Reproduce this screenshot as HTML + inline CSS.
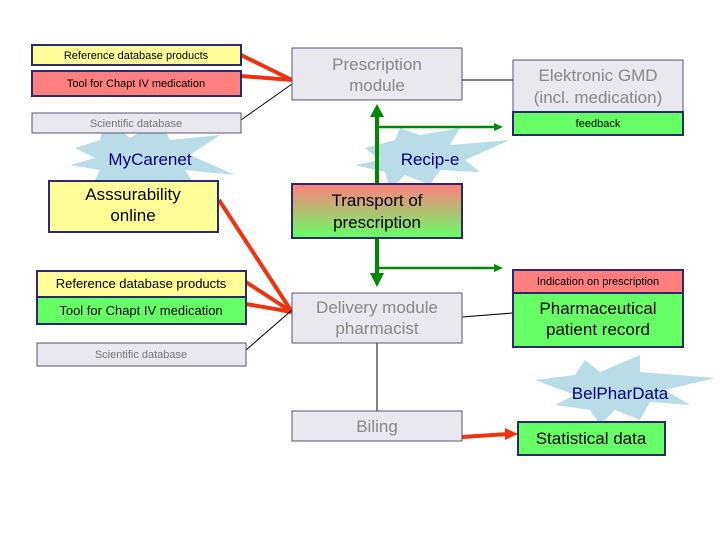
<!DOCTYPE html>
<html><head><meta charset="utf-8"><style>
html,body{margin:0;padding:0;background:#fff;}
svg{display:block;font-family:"Liberation Sans",sans-serif;}
</style></head><body>
<svg width="720" height="540" viewBox="0 0 720 540" xmlns="http://www.w3.org/2000/svg">
<defs>
<linearGradient id="g1" x1="0" y1="0" x2="0" y2="1">
<stop offset="0" stop-color="#ff7f7f"/><stop offset="1" stop-color="#66ff66"/>
</linearGradient>
</defs>
<polygon fill="#b8dde6" points="75,148 100,140 105,118 130,138 160,120 170,140 220,135 190,155 235,175 185,170 195,185 160,180 140,200 125,182 90,190 100,170 70,165 95,158"/>
<polygon fill="#b8dde6" points="365,148 395,140 400,128 420,135 460,128 450,145 510,140 465,160 480,172 440,170 430,185 405,175 390,190 385,172 355,165 380,160"/>
<polygon fill="#b8dde6" points="535,380 575,375 585,360 600,372 640,355 640,372 715,378 665,390 690,405 650,402 640,420 615,410 600,425 590,410 555,405 575,395"/>
<text x="150" y="165" font-size="17" fill="#000080" text-anchor="middle">MyCarenet</text>
<text x="430" y="165" font-size="17" fill="#000080" text-anchor="middle">Recip-e</text>
<text x="620" y="399" font-size="17" fill="#000080" text-anchor="middle">BelPharData</text>
<g stroke="#ee3311" stroke-width="4" fill="none">
<line x1="241" y1="55" x2="292" y2="80"/><line x1="241" y1="76" x2="292" y2="80"/>
<line x1="219" y1="200" x2="292" y2="312"/><line x1="246" y1="282" x2="292" y2="312"/><line x1="246" y1="304" x2="292" y2="312"/>
<line x1="462" y1="437" x2="508" y2="434"/>
</g>
<polygon fill="#ee3311" points="505,428 518,434 505,440"/>
<g stroke="#000" stroke-width="1" fill="none">
<line x1="241" y1="120" x2="292" y2="84"/>
<line x1="246" y1="350" x2="292" y2="310"/>
<line x1="462" y1="80" x2="513" y2="80"/>
<line x1="462" y1="317" x2="513" y2="313"/>
<line x1="377" y1="343" x2="377" y2="411"/>
</g>
<g stroke="#008800" stroke-width="4" fill="none">
<line x1="377" y1="116" x2="377" y2="184"/>
<line x1="377" y1="238" x2="377" y2="275"/>
</g>
<g stroke="#008800" stroke-width="2.5" fill="none">
<line x1="377" y1="127" x2="496" y2="127"/>
<line x1="377" y1="268" x2="496" y2="268"/>
</g>
<g fill="#008800">
<polygon points="370,117 377,104 384,117"/>
<polygon points="370,273 377,287 384,273"/>
<polygon points="494,123 503,127 494,131"/>
<polygon points="494,264 503,268 494,272"/>
</g>
<rect x="32" y="45" width="209" height="20" fill="#ffff99" stroke="#2b2b6b" stroke-width="2"/>
<text x="136" y="59" font-size="11" text-anchor="middle">Reference database products</text>
<rect x="32" y="71" width="209" height="25" fill="#ff7f7f" stroke="#2b2b6b" stroke-width="2"/>
<text x="136" y="87" font-size="11" text-anchor="middle">Tool for Chapt IV medication</text>
<rect x="32" y="113" width="209" height="20" fill="#e8e8ee" stroke="#555577" stroke-width="1"/>
<text x="136" y="127" font-size="11" fill="#777" text-anchor="middle">Scientific database</text>
<rect x="49" y="181" width="169" height="51" fill="#ffff99" stroke="#2b2b6b" stroke-width="2"/>
<text x="133" y="200" font-size="17" text-anchor="middle">Asssurability</text>
<text x="133" y="221" font-size="17" text-anchor="middle">online</text>
<rect x="292" y="48" width="170" height="52" fill="#e8e8ee" stroke="#555577" stroke-width="1"/>
<text x="377" y="70" font-size="17" fill="#888" text-anchor="middle">Prescription</text>
<text x="377" y="91" font-size="17" fill="#888" text-anchor="middle">module</text>
<rect x="292" y="184" width="170" height="54" fill="url(#g1)" stroke="#2b2b6b" stroke-width="2"/>
<text x="377" y="206" font-size="17" text-anchor="middle">Transport of</text>
<text x="377" y="228" font-size="17" text-anchor="middle">prescription</text>
<rect x="292" y="293" width="170" height="50" fill="#e8e8ee" stroke="#555577" stroke-width="1"/>
<text x="377" y="313" font-size="17" fill="#888" text-anchor="middle">Delivery module</text>
<text x="377" y="334" font-size="17" fill="#888" text-anchor="middle">pharmacist</text>
<rect x="292" y="411" width="170" height="30" fill="#e8e8ee" stroke="#555577" stroke-width="1"/>
<text x="377" y="432" font-size="17" fill="#888" text-anchor="middle">Biling</text>
<rect x="513" y="60" width="170" height="52" fill="#e8e8ee" stroke="#555577" stroke-width="1"/>
<text x="598" y="81" font-size="17" fill="#888" text-anchor="middle">Elektronic GMD</text>
<text x="598" y="103" font-size="17" fill="#888" text-anchor="middle">(incl. medication)</text>
<rect x="513" y="112" width="170" height="23" fill="#66ff66" stroke="#2b2b6b" stroke-width="2"/>
<text x="598" y="127" font-size="11" text-anchor="middle">feedback</text>
<rect x="513" y="270" width="170" height="23" fill="#ff7f7f" stroke="#2b2b6b" stroke-width="2"/>
<text x="598" y="285" font-size="11" text-anchor="middle">Indication on prescription</text>
<rect x="513" y="293" width="170" height="54" fill="#66ff66" stroke="#2b2b6b" stroke-width="2"/>
<text x="598" y="314" font-size="17" text-anchor="middle">Pharmaceutical</text>
<text x="598" y="335" font-size="17" text-anchor="middle">patient record</text>
<rect x="518" y="422" width="147" height="33" fill="#66ff66" stroke="#2b2b6b" stroke-width="2"/>
<text x="591" y="444" font-size="17" text-anchor="middle">Statistical data</text>
<rect x="37" y="271" width="209" height="26" fill="#ffff99" stroke="#2b2b6b" stroke-width="2"/>
<text x="141" y="288" font-size="13" text-anchor="middle">Reference database products</text>
<rect x="37" y="297" width="209" height="27" fill="#66ff66" stroke="#2b2b6b" stroke-width="2"/>
<text x="141" y="315" font-size="13" text-anchor="middle">Tool for Chapt IV medication</text>
<rect x="37" y="343" width="209" height="23" fill="#e8e8ee" stroke="#555577" stroke-width="1"/>
<text x="141" y="358" font-size="11" fill="#777" text-anchor="middle">Scientific database</text>
</svg>
</body></html>
